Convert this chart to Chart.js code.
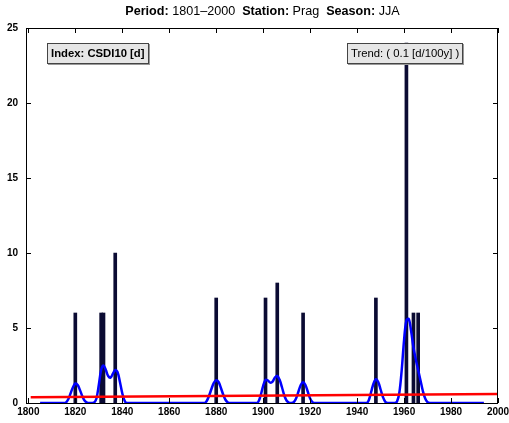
<!DOCTYPE html>
<html lang="en">
<head>
  <meta charset="UTF-8">
  <title>CSDI10 Prag JJA</title>
  <script src="https://cdn.jsdelivr.net/npm/chart.js"></script>
  <style>
    body { margin: 0; background: #fff; font-family: "Liberation Sans", Arial, sans-serif; }
    #wrap { position: relative; width: 509px; height: 423px; }
    #title { position: absolute; top: 4px; left: 26px; width: 473px; text-align: center; font-size: 12.6px; color: #000; white-space: pre; }
    .box { position: absolute; top: 43px; height: 19px; line-height: 19px; font-size: 11.3px; background: #e6e6e6; border: 1px solid #444; box-shadow: 1px 1px 0 #999; padding: 0 3px; white-space: nowrap; }
    #idx { left: 47px; font-weight: bold; }
    #trend { left: 347px; }
  </style>
</head>
<body>
  <div id="wrap">
    <canvas id="c" width="509" height="423"></canvas>
    <div id="title"><b>Period:</b> 1801–2000  <b>Station:</b> Prag  <b>Season:</b> JJA</div>
    <div class="box" id="idx">Index: CSDI10 [d]</div>
    <div class="box" id="trend">Trend: ( 0.1 [d/100y] )</div>
  </div>

  <script>
    // yearly index values (days), only non-zero years
    const barYears  = [1820, 1831, 1832, 1837, 1880, 1901, 1906, 1917, 1948, 1961, 1964, 1966];
    const barValues = [6, 6, 6, 10, 7, 7, 8, 6, 7, 24, 6, 6];

    // smoothed curve
    const smoothYears = [1805, 1815, 1816, 1817, 1818, 1819, 1820, 1821, 1822, 1823, 1824, 1825, 1826,
      1827, 1828, 1829, 1830, 1831, 1832, 1833, 1834, 1835, 1836, 1837, 1838, 1839, 1840, 1841, 1842,
      1875, 1876, 1877, 1878, 1879, 1880, 1881, 1882, 1883, 1884, 1885, 1886,
      1897, 1898, 1899, 1900, 1901, 1902, 1903, 1904, 1905, 1906, 1907, 1908, 1909, 1910, 1911, 1912,
      1913, 1914, 1915, 1916, 1917, 1918, 1919, 1920, 1921, 1922,
      1944, 1945, 1946, 1947, 1948, 1949, 1950, 1951, 1952, 1953,
      1956, 1957, 1958, 1959, 1960, 1961, 1962, 1963, 1964, 1965, 1966, 1967, 1968, 1969, 1970, 1971, 1994];
    const smoothValues = [0, 0, 0.03, 0.25, 0.65, 1.05, 1.3, 1.2, 0.85, 0.45, 0.15, 0.03, 0,
      0, 0.03, 0.3, 1.2, 2.2, 2.5, 2.2, 1.8, 1.7, 1.95, 2.2, 2.05, 1.4, 0.65, 0.15, 0,
      0, 0.15, 0.5, 0.95, 1.35, 1.52, 1.4, 1.0, 0.55, 0.2, 0.03, 0,
      0, 0.1, 0.55, 1.15, 1.55, 1.5, 1.36, 1.42, 1.7, 1.8, 1.55, 1.05, 0.5, 0.15, 0.02, 0,
      0.05, 0.3, 0.75, 1.2, 1.38, 1.2, 0.75, 0.3, 0.06, 0,
      0, 0.2, 0.75, 1.3, 1.58, 1.4, 0.9, 0.4, 0.08, 0,
      0, 0.1, 0.7, 2.2, 4.2, 5.5, 5.6, 4.8, 3.7, 2.9, 2.2, 1.5, 0.8, 0.3, 0.05, 0, 0];

    // linear trend
    const trendYears  = [1801, 2000];
    const trendValues = [0.38, 0.6];

    const xTicks = [1800, 1820, 1840, 1860, 1880, 1900, 1920, 1940, 1960, 1980, 2000];
    const yTicks = [0, 5, 10, 15, 20, 25];

    const pts = (xs, ys) => xs.map((x, i) => ({ x: x, y: ys[i] }));

    const boxTicks = {
      id: 'boxTicks',
      afterDatasetsDraw(chart) {
        const { ctx, chartArea: a, scales } = chart;
        ctx.save();
        ctx.strokeStyle = '#000';
        ctx.lineWidth = 1;
        ctx.strokeRect(a.left + 0.5, a.top + 0.5, a.right - a.left - 1, a.bottom - a.top);
        ctx.beginPath();
        xTicks.forEach(v => {
          const px = Math.round(scales.x.getPixelForValue(v)) + 0.5;
          ctx.moveTo(px, a.bottom); ctx.lineTo(px, a.bottom - 5);
          ctx.moveTo(px, a.top); ctx.lineTo(px, a.top + 5);
        });
        yTicks.forEach(v => {
          const py = Math.round(scales.y.getPixelForValue(v)) + 0.5;
          ctx.moveTo(a.left, py); ctx.lineTo(a.left + 5, py);
          ctx.moveTo(a.right, py); ctx.lineTo(a.right - 5, py);
        });
        ctx.stroke();
        ctx.restore();
      }
    };

    const tickFont = { family: '"Liberation Sans", Arial, sans-serif', size: 10, weight: 'bold' };

    new Chart(document.getElementById('c'), {
      type: 'bar',
      data: {
        datasets: [
          {
            type: 'line',
            data: pts(trendYears, trendValues),
            borderColor: '#ff0000',
            borderWidth: 2.5,
            pointRadius: 0,
            order: 0
          },
          {
            type: 'line',
            data: pts(smoothYears, smoothValues),
            borderColor: '#0000ff',
            borderWidth: 2.5,
            pointRadius: 0,
            tension: 0.35,
            order: 1
          },
          {
            type: 'bar',
            data: pts(barYears, barValues),
            backgroundColor: '#0b0b33',
            borderColor: '#000000',
            borderWidth: 0,
            barThickness: 3,
            order: 2
          }
        ]
      },
      options: {
        responsive: false,
        animation: false,
        layout: { padding: { top: 28, right: 11, left: 0, bottom: 0 } },
        plugins: { legend: { display: false }, tooltip: { enabled: false }, title: { display: false } },
        scales: {
          x: {
            type: 'linear',
            min: 1799,
            max: 2000,
            offset: false,
            afterBuildTicks: s => { s.ticks = xTicks.map(v => ({ value: v })); },
            afterFit: s => { s.height = 20; s.paddingLeft = 0; s.paddingRight = 0; },
            grid: { display: false, drawTicks: false },
            border: { display: false },
            ticks: { color: '#000', font: tickFont, padding: 3, maxRotation: 0, autoSkip: false,
                     callback: v => String(v) }
          },
          y: {
            min: 0,
            max: 25,
            afterBuildTicks: s => { s.ticks = yTicks.map(v => ({ value: v })); },
            afterFit: s => { s.width = 26; s.paddingTop = 0; s.paddingBottom = 0; },
            grid: { display: false, drawTicks: false },
            border: { display: false },
            ticks: { color: '#000', font: tickFont, padding: 8, callback: v => String(v) }
          }
        }
      },
      plugins: [boxTicks]
    });
  </script>
</body>
</html>
